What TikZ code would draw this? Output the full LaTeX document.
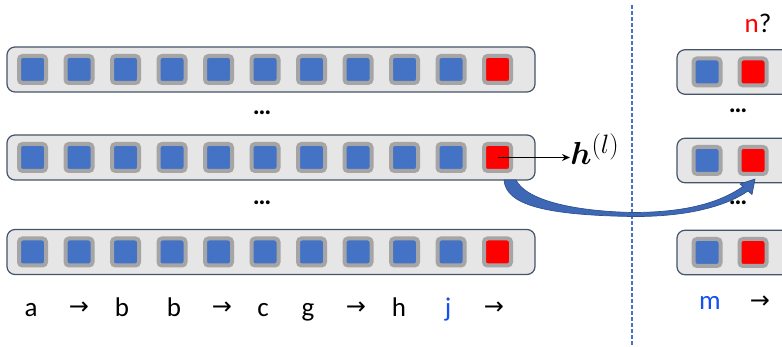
\documentclass[tikz,border=0pt]{standalone}
\usepackage{amsmath}
\usepackage{fontspec}
\setmainfont{Carlito}
\newfontfamily\arrowfont{DejaVu Sans}
\usetikzlibrary{arrows.meta}
\definecolor{barfill}{HTML}{E7E6E6}
\definecolor{barline}{HTML}{44546A}
\definecolor{cellgray}{HTML}{A5A5A5}
\definecolor{cellblue}{HTML}{4472C4}
\definecolor{cellred}{HTML}{FF0000}
\definecolor{arrowedge}{HTML}{2F528F}
\definecolor{bigblue}{HTML}{3E68B5}
\definecolor{txtblue}{HTML}{1550F0}
\begin{document}
\begin{tikzpicture}[x=1pt,y=-1pt,
  bar/.style={draw=barline, fill=barfill, line width=1.2pt, rounded corners=8pt},
  barnode/.style={bar, minimum width=528pt, minimum height=45pt, inner sep=0pt},
  cell/.style={draw=cellgray, line width=4pt, rounded corners=3.5pt, minimum size=27pt, inner sep=0pt},
  bluecell/.style={cell, fill=cellblue},
  redcell/.style={cell, fill=cellred},
  lbl/.style={font=\fontsize{27}{32}\selectfont, inner sep=0pt, anchor=base},
  arr/.style={font=\arrowfont\fontsize{24}{28}\selectfont, inner sep=0pt, anchor=center},
  dots/.style={font=\bfseries\fontsize{26}{30}\selectfont, inner sep=0pt, anchor=center},
  dashline/.style={draw=cellblue, line width=1.5pt, dash pattern=on 4pt off 2pt},
  bigarrow/.style={fill=bigblue, draw=arrowedge, line width=0.7pt, line join=round}]
\useasboundingbox (0,0) rectangle (782,347);
\begin{scope}
\clip (0,0) rectangle (782,347);
% left bars
\node[barnode] (bar1) at (271,69.5) {};
\node[barnode] (bar2) at (271,157.5) {};
\node[barnode] (bar3) at (271,252) {};
\foreach \r/\y in {1/69.5,2/157.5,3/252}{
  \foreach \i in {0,...,9}{
    \node[bluecell] (c\r-\i) at ({32.5+46.5*\i},\y) {};
  }
  \node[redcell] (r\r) at (497.5,\y) {};
}
% right bars (cut by the edge)
\foreach \r/\y in {1/72,2/160.5,3/252.5}{
  \draw[bar] (677,\y-22.25) rectangle (840,\y+22.25);
  \node[bluecell] (rb\r) at (707,\y) {};
  \node[redcell] (rr\r) at (753,\y) {};
}
% dashed divider
\coordinate (dtop) at (632,5);
\coordinate (dbot) at (632,347);
\draw[dashline] (dtop) -- (dbot);
% dots
\node[dots] (d1) at (262,113) {…};
\node[dots] (d2) at (262,203) {…};
\node[dots] (d3) at (738,111) {…};
\node[dots] (d4) at (738,203) {…};
% h^(l)
\node[anchor=base west, inner sep=0pt, font=\Huge, scale=1.28] (hl) at (570,165) {$\boldsymbol{h}^{(l)}$};
\draw[line width=1.4pt, -{Stealth[length=8pt,width=7pt]}] (r2.center) -- (hl.west |- r2.center);
% big curved arrow
\coordinate (s1) at (504,180);
\coordinate (s2) at (516,180);
\coordinate (tip) at (755,179);
\draw[bigarrow] (s1) .. controls (506,205) and (545,215) .. (632,216.5)
   .. controls (690,217) and (728,205) .. (748,191)
   -- (752,194.5) -- (tip) -- (740,184) -- (743,186.5)
   .. controls (722,201) and (690,212.5) .. (632,212.5)
   .. controls (572,211) and (526,200) .. (s2) -- cycle;
% bottom labels
\node[lbl] (la) at (31,317) {a};
\node[arr] (a1) at (79,308) {→};
\node[lbl] (lb1) at (122,317) {b};
\node[lbl] (lb2) at (174,317) {b};
\node[arr] (a2) at (222,308) {→};
\node[lbl] (lc) at (263,317) {c};
\node[lbl] (lg) at (308,317) {g};
\node[arr] (a3) at (356,308) {→};
\node[lbl] (lh) at (399,317) {h};
\node[lbl, text=txtblue] (lj) at (448,317) {j};
\node[arr] (a4) at (494,308) {→};
\node[lbl, text=txtblue] (lm) at (710,310) {m};
\node[arr] (a5) at (760,302) {→};
\node[lbl] (nq) at (758,33) {\textcolor{cellred}{n}?};
\end{scope}
\end{tikzpicture}
\end{document}
